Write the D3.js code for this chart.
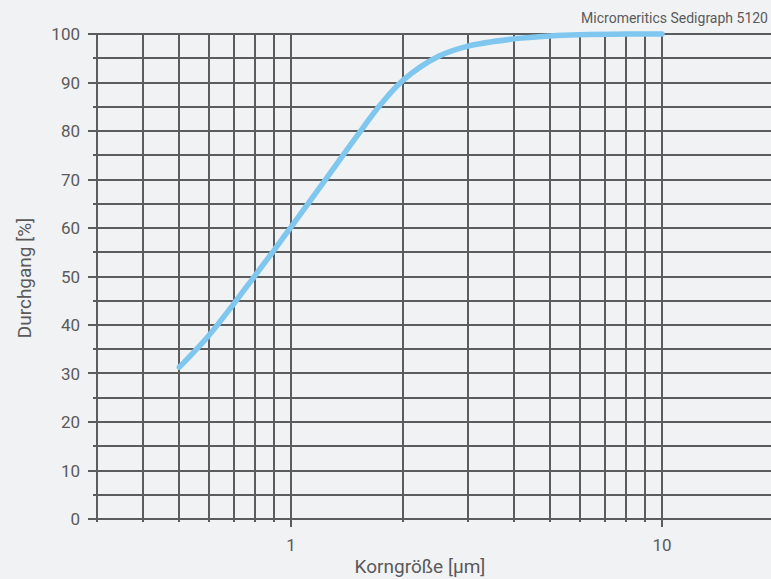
<!DOCTYPE html>
<html>
<head>
<meta charset="utf-8">
<script src="https://cdn.jsdelivr.net/npm/d3@7"></script>
<style>
  body { margin: 0; background: #f1f2f4; }
  svg { display: block; font-family: Roboto, "DejaVu Sans", sans-serif; }
  .grid { stroke: #5c5c5c; stroke-width: 1.4; shape-rendering: crispEdges; }
  .lbl { fill: #5a5a5a; }
</style>
</head>
<body>
<svg width="771" height="579"></svg>
<script>
// data
var sizes   = [0.5, 0.6, 0.7, 0.8, 0.9, 1, 1.25, 1.5, 1.75, 2, 2.5, 3, 4, 5, 6, 8, 10];
var passing = [31.3, 37.8, 44.3, 50.2, 55.4, 60.2, 70.4, 78.8, 85.6, 90.4, 95.4, 97.5, 99.0, 99.6, 99.85, 100, 100];
var xGrid   = [0.3, 0.4, 0.5, 0.6, 0.7, 0.8, 0.9, 1, 2, 3, 4, 5, 6, 7, 8, 9, 10];
var xLabels = [1, 10];
var yGrid   = d3.range(0, 101, 5);
var yLabels = d3.range(0, 101, 10);

// size and margins
var svg = d3.select("svg"),
    W = +svg.attr("width"),
    H = +svg.attr("height"),
    margin = {top: 34, left: 97, bottom: 60};

var x = d3.scaleLog().domain([0.3, 10]).range([97, 662]),
    y = d3.scaleLinear().domain([0, 100]).range([H - margin.bottom, margin.top]);

// horizontal grid
svg.append("g").selectAll("line")
  .data(yGrid)
  .enter().append("line")
    .attr("class", "grid")
    .attr("x1", function(d) { return d % 10 === 0 ? 88 : 93; })
    .attr("x2", W)
    .attr("y1", function(d) { return Math.round(y(d)); })
    .attr("y2", function(d) { return Math.round(y(d)); });

// vertical grid
svg.append("g").selectAll("line")
  .data(xGrid)
  .enter().append("line")
    .attr("class", "grid")
    .attr("x1", function(d) { return Math.round(x(d)); })
    .attr("x2", function(d) { return Math.round(x(d)); })
    .attr("y1", y(100))
    .attr("y2", function(d) { return y(0) + (xLabels.indexOf(d) >= 0 ? 8 : 3); });

// y labels
svg.append("g").selectAll("text")
  .data(yLabels)
  .enter().append("text")
    .attr("class", "lbl")
    .attr("x", 80)
    .attr("y", function(d) { return y(d); })
    .attr("dy", "0.36em")
    .attr("text-anchor", "end")
    .style("font-size", "17px")
    .text(function(d) { return d; });

// x labels
svg.append("g").selectAll("text")
  .data(xLabels)
  .enter().append("text")
    .attr("class", "lbl")
    .attr("x", function(d) { return x(d); })
    .attr("y", 551)
    .attr("text-anchor", "middle")
    .style("font-size", "17px")
    .text(function(d) { return d; });

// axis titles
svg.append("text")
  .attr("class", "lbl")
  .attr("x", 420).attr("y", 573)
  .attr("text-anchor", "middle")
  .style("font-size", "19px")
  .text("Korngröße [µm]");

svg.append("text")
  .attr("class", "lbl")
  .attr("transform", "translate(31,278) rotate(-90)")
  .attr("text-anchor", "middle")
  .style("font-size", "19px")
  .text("Durchgang [%]");

svg.append("text")
  .attr("class", "lbl")
  .attr("x", 768).attr("y", 23)
  .attr("text-anchor", "end")
  .style("font-size", "14px")
  .text("Micromeritics Sedigraph 5120");

// curve
var line = d3.line()
  .x(function(d) { return x(d[0]); })
  .y(function(d) { return y(d[1]); })
  .curve(d3.curveCatmullRom.alpha(0.5));

svg.append("path")
  .datum(d3.zip(sizes, passing))
  .attr("fill", "none")
  .attr("stroke", "#7fc7ee")
  .attr("stroke-width", 5.5)
  .attr("stroke-linecap", "round")
  .attr("d", line);
</script>
</body>
</html>
